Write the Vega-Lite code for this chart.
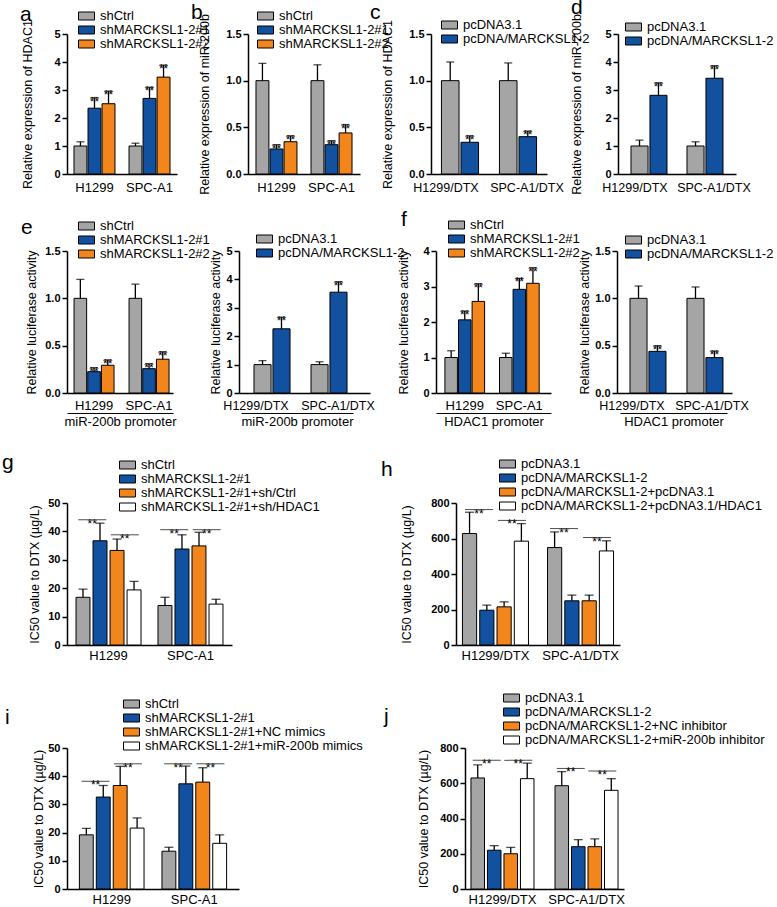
{
"$schema": "https://vega.github.io/schema/vega-lite/v6.json",
"padding": {"left": 2, "top": -4, "right": 0, "bottom": 0},
"config": {
  "font": "Liberation Sans",
  "view": {"stroke": null},
  "axis": {"domainColor": "black", "domainWidth": 1.5, "tickColor": "black", "labelColor": "black", "titleColor": "black", "grid": false, "titleFontWeight": "normal"},
  "axisY": {"tickSize": 5, "tickWidth": 1.5, "labelFontSize": 11, "labelFontWeight": "bold", "labelPadding": 2, "titleFontSize": 12.5, "labelOverlap": false},
  "axisX": {"ticks": false, "tickSize": 0, "labelAngle": 0, "labelFontSize": 13, "labelPadding": 6, "labelOverlap": false, "titleFontSize": 13},
  "legend": {"orient": "none", "labelFontSize": 13, "labelColor": "black", "symbolType": "M-2,-1H2V1H-2Z", "symbolSize": 64, "symbolStrokeColor": "black", "symbolStrokeWidth": 1, "labelOffset": 7, "padding": 0, "rowPadding": -5, "labelLimit": 400},
  "title": {"anchor": "start", "frame": "group", "offset": 0, "fontSize": 21, "fontWeight": "normal", "baseline": "alphabetic", "color": "black"},
  "bar": {"stroke": "black", "strokeWidth": 1},
  "rule": {"color": "black", "strokeWidth": 1.3},
  "tick": {"color": "black", "thickness": 1.3},
  "text": {"fontSize": 12, "color": "black"}
},
"datasets": {
  "a": [
    {"cell": "H1299", "grp": "shCtrl", "mean": 1.0, "upper": 1.15, "star": ""},
    {"cell": "H1299", "grp": "shMARCKSL1-2#1", "mean": 2.35, "upper": 2.73, "star": "**"},
    {"cell": "H1299", "grp": "shMARCKSL1-2#2", "mean": 2.51, "upper": 2.96, "star": "**"},
    {"cell": "SPC-A1", "grp": "shCtrl", "mean": 1.0, "upper": 1.1, "star": ""},
    {"cell": "SPC-A1", "grp": "shMARCKSL1-2#1", "mean": 2.7, "upper": 3.1, "star": "**"},
    {"cell": "SPC-A1", "grp": "shMARCKSL1-2#2", "mean": 3.46, "upper": 3.89, "star": "**"}
  ],
  "b": [
    {"cell": "H1299", "grp": "shCtrl", "mean": 1.0, "upper": 1.186, "star": ""},
    {"cell": "H1299", "grp": "shMARCKSL1-2#1", "mean": 0.268, "upper": 0.314, "star": "**"},
    {"cell": "H1299", "grp": "shMARCKSL1-2#2", "mean": 0.346, "upper": 0.41, "star": "**"},
    {"cell": "SPC-A1", "grp": "shCtrl", "mean": 1.0, "upper": 1.17, "star": ""},
    {"cell": "SPC-A1", "grp": "shMARCKSL1-2#1", "mean": 0.314, "upper": 0.357, "star": "**"},
    {"cell": "SPC-A1", "grp": "shMARCKSL1-2#2", "mean": 0.44, "upper": 0.53, "star": "**"}
  ],
  "c": [
    {"cell": "H1299/DTX", "grp": "pcDNA3.1", "mean": 1.0, "upper": 1.2, "star": ""},
    {"cell": "H1299/DTX", "grp": "pcDNA/MARCKSL1-2", "mean": 0.34, "upper": 0.41, "star": "**"},
    {"cell": "SPC-A1/DTX", "grp": "pcDNA3.1", "mean": 1.0, "upper": 1.19, "star": ""},
    {"cell": "SPC-A1/DTX", "grp": "pcDNA/MARCKSL1-2", "mean": 0.4, "upper": 0.46, "star": "**"}
  ],
  "d": [
    {"cell": "H1299/DTX", "grp": "pcDNA3.1", "mean": 1.0, "upper": 1.21, "star": ""},
    {"cell": "H1299/DTX", "grp": "pcDNA/MARCKSL1-2", "mean": 2.81, "upper": 3.26, "star": "**"},
    {"cell": "SPC-A1/DTX", "grp": "pcDNA3.1", "mean": 1.0, "upper": 1.15, "star": ""},
    {"cell": "SPC-A1/DTX", "grp": "pcDNA/MARCKSL1-2", "mean": 3.42, "upper": 3.87, "star": "**"}
  ],
  "e1": [
    {"cell": "H1299", "grp": "shCtrl", "mean": 1.0, "upper": 1.2, "star": ""},
    {"cell": "H1299", "grp": "shMARCKSL1-2#1", "mean": 0.225, "upper": 0.268, "star": "**"},
    {"cell": "H1299", "grp": "shMARCKSL1-2#2", "mean": 0.293, "upper": 0.35, "star": "**"},
    {"cell": "SPC-A1", "grp": "shCtrl", "mean": 1.0, "upper": 1.15, "star": ""},
    {"cell": "SPC-A1", "grp": "shMARCKSL1-2#1", "mean": 0.257, "upper": 0.31, "star": "**"},
    {"cell": "SPC-A1", "grp": "shMARCKSL1-2#2", "mean": 0.357, "upper": 0.436, "star": "**"}
  ],
  "e2": [
    {"cell": "H1299/DTX", "grp": "pcDNA3.1", "mean": 1.0, "upper": 1.14, "star": ""},
    {"cell": "H1299/DTX", "grp": "pcDNA/MARCKSL1-2", "mean": 2.26, "upper": 2.67, "star": "**"},
    {"cell": "SPC-A1/DTX", "grp": "pcDNA3.1", "mean": 1.0, "upper": 1.1, "star": ""},
    {"cell": "SPC-A1/DTX", "grp": "pcDNA/MARCKSL1-2", "mean": 3.55, "upper": 3.92, "star": "**"}
  ],
  "f1": [
    {"cell": "H1299", "grp": "shCtrl", "mean": 1.0, "upper": 1.19, "star": ""},
    {"cell": "H1299", "grp": "shMARCKSL1-2#1", "mean": 2.06, "upper": 2.31, "star": "**"},
    {"cell": "H1299", "grp": "shMARCKSL1-2#2", "mean": 2.58, "upper": 3.08, "star": "**"},
    {"cell": "SPC-A1", "grp": "shCtrl", "mean": 1.0, "upper": 1.12, "star": ""},
    {"cell": "SPC-A1", "grp": "shMARCKSL1-2#1", "mean": 2.92, "upper": 3.23, "star": "**"},
    {"cell": "SPC-A1", "grp": "shMARCKSL1-2#2", "mean": 3.09, "upper": 3.53, "star": "**"}
  ],
  "f2": [
    {"cell": "H1299/DTX", "grp": "pcDNA3.1", "mean": 1.0, "upper": 1.13, "star": ""},
    {"cell": "H1299/DTX", "grp": "pcDNA/MARCKSL1-2", "mean": 0.44, "upper": 0.5, "star": "**"},
    {"cell": "SPC-A1/DTX", "grp": "pcDNA3.1", "mean": 1.0, "upper": 1.12, "star": ""},
    {"cell": "SPC-A1/DTX", "grp": "pcDNA/MARCKSL1-2", "mean": 0.374, "upper": 0.444, "star": "**"}
  ],
  "g": [
    {"cell": "H1299", "grp": "shCtrl", "mean": 16.8, "upper": 19.7},
    {"cell": "H1299", "grp": "shMARCKSL1-2#1", "mean": 36.7, "upper": 42.9},
    {"cell": "H1299", "grp": "shMARCKSL1-2#1+sh/Ctrl", "mean": 33.3, "upper": 37.3},
    {"cell": "H1299", "grp": "shMARCKSL1-2#1+sh/HDAC1", "mean": 19.4, "upper": 22.4},
    {"cell": "SPC-A1", "grp": "shCtrl", "mean": 13.9, "upper": 16.8},
    {"cell": "SPC-A1", "grp": "shMARCKSL1-2#1", "mean": 33.8, "upper": 38.8},
    {"cell": "SPC-A1", "grp": "shMARCKSL1-2#1+sh/Ctrl", "mean": 34.9, "upper": 39.7},
    {"cell": "SPC-A1", "grp": "shMARCKSL1-2#1+sh/HDAC1", "mean": 14.4, "upper": 16.1}
  ],
  "gb": [
    {"cell": "H1299", "pair": "A", "y": 44.1, "star": "**"},
    {"cell": "H1299", "pair": "B", "y": 38.8, "star": "**"},
    {"cell": "SPC-A1", "pair": "A", "y": 40.6, "star": "**"},
    {"cell": "SPC-A1", "pair": "B", "y": 40.6, "star": "**"}
  ],
  "h": [
    {"cell": "H1299/DTX", "grp": "pcDNA3.1", "mean": 628, "upper": 748},
    {"cell": "H1299/DTX", "grp": "pcDNA/MARCKSL1-2", "mean": 196, "upper": 225},
    {"cell": "H1299/DTX", "grp": "pcDNA/MARCKSL1-2+pcDNA3.1", "mean": 215, "upper": 243},
    {"cell": "H1299/DTX", "grp": "pcDNA/MARCKSL1-2+pcDNA3.1/HDAC1", "mean": 585, "upper": 684},
    {"cell": "SPC-A1/DTX", "grp": "pcDNA3.1", "mean": 549, "upper": 637},
    {"cell": "SPC-A1/DTX", "grp": "pcDNA/MARCKSL1-2", "mean": 249, "upper": 281},
    {"cell": "SPC-A1/DTX", "grp": "pcDNA/MARCKSL1-2+pcDNA3.1", "mean": 249, "upper": 281},
    {"cell": "SPC-A1/DTX", "grp": "pcDNA/MARCKSL1-2+pcDNA3.1/HDAC1", "mean": 530, "upper": 587}
  ],
  "hb": [
    {"cell": "H1299/DTX", "pair": "A", "y": 763, "star": "**"},
    {"cell": "H1299/DTX", "pair": "B", "y": 702, "star": "**"},
    {"cell": "SPC-A1/DTX", "pair": "A", "y": 656, "star": "**"},
    {"cell": "SPC-A1/DTX", "pair": "B", "y": 605, "star": "**"}
  ],
  "i": [
    {"cell": "H1299", "grp": "shCtrl", "mean": 19.2, "upper": 21.5},
    {"cell": "H1299", "grp": "shMARCKSL1-2#1", "mean": 32.6, "upper": 36.7},
    {"cell": "H1299", "grp": "shMARCKSL1-2#1+NC mimics", "mean": 36.7, "upper": 43.5},
    {"cell": "H1299", "grp": "shMARCKSL1-2#1+miR-200b mimics", "mean": 21.6, "upper": 25.2},
    {"cell": "SPC-A1", "grp": "shCtrl", "mean": 13.4, "upper": 14.8},
    {"cell": "SPC-A1", "grp": "shMARCKSL1-2#1", "mean": 37.3, "upper": 43.6},
    {"cell": "SPC-A1", "grp": "shMARCKSL1-2#1+NC mimics", "mean": 37.9, "upper": 43.0},
    {"cell": "SPC-A1", "grp": "shMARCKSL1-2#1+miR-200b mimics", "mean": 16.2, "upper": 19.2}
  ],
  "ib": [
    {"cell": "H1299", "pair": "A", "y": 38.2, "star": "**"},
    {"cell": "H1299", "pair": "B", "y": 44.4, "star": "**"},
    {"cell": "SPC-A1", "pair": "A", "y": 44.4, "star": "**"},
    {"cell": "SPC-A1", "pair": "B", "y": 44.4, "star": "**"}
  ],
  "j": [
    {"cell": "H1299/DTX", "grp": "pcDNA3.1", "mean": 630, "upper": 704},
    {"cell": "H1299/DTX", "grp": "pcDNA/MARCKSL1-2", "mean": 220, "upper": 246},
    {"cell": "H1299/DTX", "grp": "pcDNA/MARCKSL1-2+NC inhibitor", "mean": 200, "upper": 236},
    {"cell": "H1299/DTX", "grp": "pcDNA/MARCKSL1-2+miR-200b inhibitor", "mean": 626, "upper": 714},
    {"cell": "SPC-A1/DTX", "grp": "pcDNA3.1", "mean": 586, "upper": 666},
    {"cell": "SPC-A1/DTX", "grp": "pcDNA/MARCKSL1-2", "mean": 240, "upper": 280},
    {"cell": "SPC-A1/DTX", "grp": "pcDNA/MARCKSL1-2+NC inhibitor", "mean": 240, "upper": 284},
    {"cell": "SPC-A1/DTX", "grp": "pcDNA/MARCKSL1-2+miR-200b inhibitor", "mean": 560, "upper": 626}
  ],
  "jb": [
    {"cell": "H1299/DTX", "pair": "A", "y": 730, "star": "**"},
    {"cell": "H1299/DTX", "pair": "B", "y": 730, "star": "**"},
    {"cell": "SPC-A1/DTX", "pair": "A", "y": 684, "star": "**"},
    {"cell": "SPC-A1/DTX", "pair": "B", "y": 670, "star": "**"}
  ]
},
"resolve": {"scale": {"color": "independent", "x": "independent", "y": "independent", "xOffset": "independent"}, "legend": {"color": "independent"}, "axis": {"x": "independent", "y": "independent"}},
"columns": 1, "align": "none", "spacing": 13,
"concat": [
 {
  "hconcat": [
   {
    "width": 110, "height": 140,
    "title": {"text": "a", "dx": -47, "dy": 19},
    "data": {"name": "a"},
    "encoding": {
      "x": {"field": "cell", "type": "nominal", "sort": null, "title": null, "scale": {"paddingInner": 0.255, "paddingOuter": 0.127}, "axis": {"labelPadding": 7}},
      "xOffset": {"field": "grp", "type": "nominal", "sort": null, "scale": {"paddingInner": 0.08}}
    },
    "layer": [
      {"mark": "bar", "encoding": {
        "y": {"field": "mean", "type": "quantitative", "title": "Relative expression of HDAC1", "scale": {"domain": [0, 5], "nice": false}, "axis": {"values": [0, 1, 2, 3, 4, 5], "titlePadding": 19.4, "labelOverlap": false}},
        "color": {"field": "grp", "type": "nominal", "sort": null, "scale": {"range": ["#a5a5a5", "#11519f", "#f2861c"]}, "legend": {"title": null, "legendX": 13, "legendY": -24.5, "rowPadding": -5.5}}}},
      {"mark": "rule", "encoding": {"y": {"field": "mean", "type": "quantitative", "title": "Relative expression of HDAC1", "scale": {"domain": [0, 5], "nice": false}, "axis": {"values": [0, 1, 2, 3, 4, 5], "titlePadding": 19.4, "labelOverlap": false}}, "y2": {"field": "upper"}}},
      {"mark": {"type": "tick", "size": 8}, "encoding": {"y": {"field": "upper", "type": "quantitative", "title": "Relative expression of HDAC1", "scale": {"domain": [0, 5], "nice": false}, "axis": {"values": [0, 1, 2, 3, 4, 5], "titlePadding": 19.4, "labelOverlap": false}}}},
      {"transform": [{"filter": "datum.star !== ''"}], "mark": {"type": "text", "dy": 4}, "encoding": {"y": {"field": "upper", "type": "quantitative", "title": "Relative expression of HDAC1", "scale": {"domain": [0, 5], "nice": false}, "axis": {"values": [0, 1, 2, 3, 4, 5], "titlePadding": 19.4, "labelOverlap": false}}, "text": {"field": "star"}}}
    ]
   },
   {
    "width": 112, "height": 140,
    "title": {"text": "b", "dx": -57, "dy": 17},
    "data": {"name": "b"},
    "encoding": {
      "x": {"field": "cell", "type": "nominal", "sort": null, "title": null, "scale": {"paddingInner": 0.255, "paddingOuter": 0.145}, "axis": {"labelPadding": 7}},
      "xOffset": {"field": "grp", "type": "nominal", "sort": null, "scale": {"paddingInner": 0.08}}
    },
    "layer": [
      {"mark": "bar", "encoding": {
        "y": {"field": "mean", "type": "quantitative", "title": "Relative expression of miR-200b", "scale": {"domain": [0, 1.5], "nice": false}, "axis": {"values": [0, 0.5, 1, 1.5], "format": ".1f", "titlePadding": 14.2, "labelOverlap": false}},
        "color": {"field": "grp", "type": "nominal", "sort": null, "scale": {"range": ["#a5a5a5", "#11519f", "#f2861c"]}, "legend": {"title": null, "legendX": 11, "legendY": -24.5, "rowPadding": -5.5}}}},
      {"mark": "rule", "encoding": {"y": {"field": "mean", "type": "quantitative", "title": "Relative expression of miR-200b", "scale": {"domain": [0, 1.5], "nice": false}, "axis": {"values": [0, 0.5, 1, 1.5], "format": ".1f", "titlePadding": 14.2, "labelOverlap": false}}, "y2": {"field": "upper"}}},
      {"mark": {"type": "tick", "size": 8}, "encoding": {"y": {"field": "upper", "type": "quantitative", "title": "Relative expression of miR-200b", "scale": {"domain": [0, 1.5], "nice": false}, "axis": {"values": [0, 0.5, 1, 1.5], "format": ".1f", "titlePadding": 14.2, "labelOverlap": false}}}},
      {"transform": [{"filter": "datum.star !== ''"}], "mark": {"type": "text", "dy": 4}, "encoding": {"y": {"field": "upper", "type": "quantitative", "title": "Relative expression of miR-200b", "scale": {"domain": [0, 1.5], "nice": false}, "axis": {"values": [0, 0.5, 1, 1.5], "format": ".1f", "titlePadding": 14.2, "labelOverlap": false}}, "text": {"field": "star"}}}
    ]
   },
   {
    "width": 116, "height": 140,
    "title": {"text": "c", "dx": -61, "dy": 8},
    "data": {"name": "c"},
    "encoding": {
      "x": {"field": "cell", "type": "nominal", "sort": null, "title": null, "scale": {"paddingInner": 0.36, "paddingOuter": 0.18}, "axis": {"labelPadding": 7, "labelFontSize": 12.5, "labelOffset": {"condition": {"test": "datum.value === 'H1299/DTX'", "value": -14}, "value": 9}}},
      "xOffset": {"field": "grp", "type": "nominal", "sort": null, "scale": {"paddingInner": 0.1}}
    },
    "layer": [
      {"mark": "bar", "encoding": {
        "y": {"field": "mean", "type": "quantitative", "title": "Relative expression of HDAC1", "scale": {"domain": [0, 1.5], "nice": false}, "axis": {"values": [0, 0.5, 1, 1.5], "format": ".1f", "titlePadding": 14.2, "labelOverlap": false}},
        "color": {"field": "grp", "type": "nominal", "sort": null, "scale": {"range": ["#a5a5a5", "#11519f"]}, "legend": {"title": null, "legendX": 12, "legendY": -15.5, "rowPadding": -5.5}}}},
      {"mark": "rule", "encoding": {"y": {"field": "mean", "type": "quantitative", "title": "Relative expression of HDAC1", "scale": {"domain": [0, 1.5], "nice": false}, "axis": {"values": [0, 0.5, 1, 1.5], "format": ".1f", "titlePadding": 14.2, "labelOverlap": false}}, "y2": {"field": "upper"}}},
      {"mark": {"type": "tick", "size": 8}, "encoding": {"y": {"field": "upper", "type": "quantitative", "title": "Relative expression of HDAC1", "scale": {"domain": [0, 1.5], "nice": false}, "axis": {"values": [0, 0.5, 1, 1.5], "format": ".1f", "titlePadding": 14.2, "labelOverlap": false}}}},
      {"transform": [{"filter": "datum.star !== ''"}], "mark": {"type": "text", "dy": 4}, "encoding": {"y": {"field": "upper", "type": "quantitative", "title": "Relative expression of HDAC1", "scale": {"domain": [0, 1.5], "nice": false}, "axis": {"values": [0, 0.5, 1, 1.5], "format": ".1f", "titlePadding": 14.2, "labelOverlap": false}}, "text": {"field": "star"}}}
    ]
   },
   {
    "width": 118, "height": 140,
    "title": {"text": "d", "dx": -47, "dy": 8},
    "data": {"name": "d"},
    "encoding": {
      "x": {"field": "cell", "type": "nominal", "sort": null, "title": null, "scale": {"paddingInner": 0.357, "paddingOuter": 0.232}, "axis": {"labelPadding": 7, "labelFontSize": 12.5, "labelOffset": {"condition": {"test": "datum.value === 'H1299/DTX'", "value": -14}, "value": 9}}},
      "xOffset": {"field": "grp", "type": "nominal", "sort": null, "scale": {"paddingInner": 0.1}}
    },
    "layer": [
      {"mark": "bar", "encoding": {
        "y": {"field": "mean", "type": "quantitative", "title": "Relative expression of miR-200b", "scale": {"domain": [0, 5], "nice": false}, "axis": {"values": [0, 1, 2, 3, 4, 5], "titlePadding": 21.4, "labelOverlap": false}},
        "color": {"field": "grp", "type": "nominal", "sort": null, "scale": {"range": ["#a5a5a5", "#11519f"]}, "legend": {"title": null, "legendX": 9, "legendY": -13.5, "rowPadding": -5.5}}}},
      {"mark": "rule", "encoding": {"y": {"field": "mean", "type": "quantitative", "title": "Relative expression of miR-200b", "scale": {"domain": [0, 5], "nice": false}, "axis": {"values": [0, 1, 2, 3, 4, 5], "titlePadding": 21.4, "labelOverlap": false}}, "y2": {"field": "upper"}}},
      {"mark": {"type": "tick", "size": 8}, "encoding": {"y": {"field": "upper", "type": "quantitative", "title": "Relative expression of miR-200b", "scale": {"domain": [0, 5], "nice": false}, "axis": {"values": [0, 1, 2, 3, 4, 5], "titlePadding": 21.4, "labelOverlap": false}}}},
      {"transform": [{"filter": "datum.star !== ''"}], "mark": {"type": "text", "dy": 4}, "encoding": {"y": {"field": "upper", "type": "quantitative", "title": "Relative expression of miR-200b", "scale": {"domain": [0, 5], "nice": false}, "axis": {"values": [0, 1, 2, 3, 4, 5], "titlePadding": 21.4, "labelOverlap": false}}, "text": {"field": "star"}}}
    ]
   }
  ],
  "spacing": 71, "bounds": "flush",
  "resolve": {"scale": {"color": "independent", "x": "independent", "y": "independent", "xOffset": "independent"}, "legend": {"color": "independent"}, "axis": {"x": "independent", "y": "independent"}}
 },
 {
  "columns": 1, "align": "none", "spacing": 23,
  "resolve": {"scale": {"color": "independent", "x": "independent", "y": "independent", "xOffset": "independent"}, "legend": {"color": "independent"}, "axis": {"x": "independent", "y": "independent"}},
  "concat": [
   {
    "hconcat": [
     {
      "width": 106, "height": 142,
      "title": {"text": "e", "dx": -46, "dy": 22},
      "layer": [
        {
          "data": {"name": "e1"},
          "encoding": {
            "x": {"field": "cell", "type": "nominal", "sort": null, "title": null, "scale": {"paddingInner": 0.273, "paddingOuter": 0.1, "align": 0.64}, "axis": {"labelPadding": 6}},
            "xOffset": {"field": "grp", "type": "nominal", "sort": null, "scale": {"paddingInner": 0.08}}
          },
          "layer": [
            {"mark": "bar", "encoding": {
              "y": {"field": "mean", "type": "quantitative", "title": "Relative luciferase activity", "scale": {"domain": [0, 1.5], "nice": false}, "axis": {"values": [0, 0.5, 1, 1.5], "format": ".1f", "titlePadding": 6.2, "labelOverlap": false}},
              "color": {"field": "grp", "type": "nominal", "sort": null, "scale": {"range": ["#a5a5a5", "#11519f", "#f2861c"]}, "legend": {"title": null, "legendX": 13, "legendY": -31.5, "rowPadding": -5}}}},
            {"mark": "rule", "encoding": {"y": {"field": "mean", "type": "quantitative", "title": "Relative luciferase activity", "scale": {"domain": [0, 1.5], "nice": false}, "axis": {"values": [0, 0.5, 1, 1.5], "format": ".1f", "titlePadding": 6.2, "labelOverlap": false}}, "y2": {"field": "upper"}}},
            {"mark": {"type": "tick", "size": 8}, "encoding": {"y": {"field": "upper", "type": "quantitative", "title": "Relative luciferase activity", "scale": {"domain": [0, 1.5], "nice": false}, "axis": {"values": [0, 0.5, 1, 1.5], "format": ".1f", "titlePadding": 6.2, "labelOverlap": false}}}},
            {"transform": [{"filter": "datum.star !== ''"}], "mark": {"type": "text", "dy": 4}, "encoding": {"y": {"field": "upper", "type": "quantitative", "title": "Relative luciferase activity", "scale": {"domain": [0, 1.5], "nice": false}, "axis": {"values": [0, 0.5, 1, 1.5], "format": ".1f", "titlePadding": 6.2, "labelOverlap": false}}, "text": {"field": "star"}}}
          ]
        },
        {
          "data": {"values": [{"p": "promoter"}]},
          "mark": {"type": "rule", "opacity": 0},
          "encoding": {"x": {"field": "p", "type": "nominal", "axis": {"orient": "bottom", "offset": 20, "labels": false, "domain": true, "domainWidth": 1, "title": "miR-200b promoter", "titlePadding": 2}}}
        }
      ],
      "resolve": {"scale": {"x": "independent"}, "axis": {"x": "independent"}}
     },
     {
      "width": 131, "height": 142,
      "layer": [
        {
          "data": {"name": "e2"},
          "encoding": {
            "x": {"field": "cell", "type": "nominal", "sort": null, "title": null, "scale": {"paddingInner": 0.368, "paddingOuter": 0.333, "align": 0.395}, "axis": {"labelPadding": 6, "labelFontSize": 12.5, "labelOffset": {"condition": {"test": "datum.value === 'H1299/DTX'", "value": -16}, "value": 9}}},
            "xOffset": {"field": "grp", "type": "nominal", "sort": null, "scale": {"paddingInner": 0.1}}
          },
          "layer": [
            {"mark": "bar", "encoding": {
              "y": {"field": "mean", "type": "quantitative", "title": "Relative luciferase activity", "scale": {"domain": [0, 5], "nice": false}, "axis": {"values": [0, 1, 2, 3, 4, 5], "titlePadding": 3.4, "labelOverlap": false}},
              "color": {"field": "grp", "type": "nominal", "sort": null, "scale": {"range": ["#a5a5a5", "#11519f"]}, "legend": {"title": null, "legendX": 19, "legendY": -18.5, "rowPadding": -5}}}},
            {"mark": "rule", "encoding": {"y": {"field": "mean", "type": "quantitative", "title": "Relative luciferase activity", "scale": {"domain": [0, 5], "nice": false}, "axis": {"values": [0, 1, 2, 3, 4, 5], "titlePadding": 3.4, "labelOverlap": false}}, "y2": {"field": "upper"}}},
            {"mark": {"type": "tick", "size": 8}, "encoding": {"y": {"field": "upper", "type": "quantitative", "title": "Relative luciferase activity", "scale": {"domain": [0, 5], "nice": false}, "axis": {"values": [0, 1, 2, 3, 4, 5], "titlePadding": 3.4, "labelOverlap": false}}}},
            {"transform": [{"filter": "datum.star !== ''"}], "mark": {"type": "text", "dy": 4}, "encoding": {"y": {"field": "upper", "type": "quantitative", "title": "Relative luciferase activity", "scale": {"domain": [0, 5], "nice": false}, "axis": {"values": [0, 1, 2, 3, 4, 5], "titlePadding": 3.4, "labelOverlap": false}}, "text": {"field": "star"}}}
          ]
        },
        {
          "data": {"values": [{"p": "promoter"}]},
          "mark": {"type": "rule", "opacity": 0},
          "encoding": {"x": {"field": "p", "type": "nominal", "scale": {"range": [2, 114]}, "axis": {"orient": "bottom", "offset": 20, "labels": false, "domain": true, "domainWidth": 1, "title": "miR-200b promoter", "titlePadding": 2}}}
        }
      ],
      "resolve": {"scale": {"x": "independent"}, "axis": {"x": "independent"}}
     },
     {
      "width": 115, "height": 142,
      "title": {"text": "f", "dx": -35, "dy": 15},
      "layer": [
        {
          "data": {"name": "f1"},
          "encoding": {
            "x": {"field": "cell", "type": "nominal", "sort": null, "title": null, "scale": {"paddingInner": 0.273, "paddingOuter": 0.19, "align": 0.43}, "axis": {"labelPadding": 6}},
            "xOffset": {"field": "grp", "type": "nominal", "sort": null, "scale": {"paddingInner": 0.08}}
          },
          "layer": [
            {"mark": "bar", "encoding": {
              "y": {"field": "mean", "type": "quantitative", "title": "Relative luciferase activity", "scale": {"domain": [0, 4], "nice": false}, "axis": {"values": [0, 1, 2, 3, 4], "titlePadding": 12.4, "labelOverlap": false}},
              "color": {"field": "grp", "type": "nominal", "sort": null, "scale": {"range": ["#a5a5a5", "#11519f", "#f2861c"]}, "legend": {"title": null, "legendX": 14, "legendY": -32.5, "rowPadding": -4.5}}}},
            {"mark": "rule", "encoding": {"y": {"field": "mean", "type": "quantitative", "title": "Relative luciferase activity", "scale": {"domain": [0, 4], "nice": false}, "axis": {"values": [0, 1, 2, 3, 4], "titlePadding": 12.4, "labelOverlap": false}}, "y2": {"field": "upper"}}},
            {"mark": {"type": "tick", "size": 8}, "encoding": {"y": {"field": "upper", "type": "quantitative", "title": "Relative luciferase activity", "scale": {"domain": [0, 4], "nice": false}, "axis": {"values": [0, 1, 2, 3, 4], "titlePadding": 12.4, "labelOverlap": false}}}},
            {"transform": [{"filter": "datum.star !== ''"}], "mark": {"type": "text", "dy": 4}, "encoding": {"y": {"field": "upper", "type": "quantitative", "title": "Relative luciferase activity", "scale": {"domain": [0, 4], "nice": false}, "axis": {"values": [0, 1, 2, 3, 4], "titlePadding": 12.4, "labelOverlap": false}}, "text": {"field": "star"}}}
          ]
        },
        {
          "data": {"values": [{"p": "promoter"}]},
          "mark": {"type": "rule", "opacity": 0},
          "encoding": {"x": {"field": "p", "type": "nominal", "axis": {"orient": "bottom", "offset": 20, "labels": false, "domain": true, "domainWidth": 1, "title": "HDAC1 promoter", "titlePadding": 2}}}
        }
      ],
      "resolve": {"scale": {"x": "independent"}, "axis": {"x": "independent"}}
     },
     {
      "width": 115, "height": 142,
      "layer": [
        {
          "data": {"name": "f2"},
          "encoding": {
            "x": {"field": "cell", "type": "nominal", "sort": null, "title": null, "scale": {"paddingInner": 0.368, "paddingOuter": 0.193, "align": 0.59}, "axis": {"labelPadding": 6, "labelFontSize": 12.5, "labelOffset": {"condition": {"test": "datum.value === 'H1299/DTX'", "value": -16}, "value": 7}}},
            "xOffset": {"field": "grp", "type": "nominal", "sort": null, "scale": {"paddingInner": 0.1}}
          },
          "layer": [
            {"mark": "bar", "encoding": {
              "y": {"field": "mean", "type": "quantitative", "title": "Relative luciferase activity", "scale": {"domain": [0, 1.5], "nice": false}, "axis": {"values": [0, 0.5, 1, 1.5], "format": ".1f", "titlePadding": 3.2, "labelOverlap": false}},
              "color": {"field": "grp", "type": "nominal", "sort": null, "scale": {"range": ["#a5a5a5", "#11519f"]}, "legend": {"title": null, "legendX": 10, "legendY": -17.5, "rowPadding": -5}}}},
            {"mark": "rule", "encoding": {"y": {"field": "mean", "type": "quantitative", "title": "Relative luciferase activity", "scale": {"domain": [0, 1.5], "nice": false}, "axis": {"values": [0, 0.5, 1, 1.5], "format": ".1f", "titlePadding": 3.2, "labelOverlap": false}}, "y2": {"field": "upper"}}},
            {"mark": {"type": "tick", "size": 8}, "encoding": {"y": {"field": "upper", "type": "quantitative", "title": "Relative luciferase activity", "scale": {"domain": [0, 1.5], "nice": false}, "axis": {"values": [0, 0.5, 1, 1.5], "format": ".1f", "titlePadding": 3.2, "labelOverlap": false}}}},
            {"transform": [{"filter": "datum.star !== ''"}], "mark": {"type": "text", "dy": 4}, "encoding": {"y": {"field": "upper", "type": "quantitative", "title": "Relative luciferase activity", "scale": {"domain": [0, 1.5], "nice": false}, "axis": {"values": [0, 0.5, 1, 1.5], "format": ".1f", "titlePadding": 3.2, "labelOverlap": false}}, "text": {"field": "star"}}}
          ]
        },
        {
          "data": {"values": [{"p": "promoter"}]},
          "mark": {"type": "rule", "opacity": 0},
          "encoding": {"x": {"field": "p", "type": "nominal", "scale": {"range": [3, 110]}, "axis": {"orient": "bottom", "offset": 20, "labels": false, "domain": true, "domainWidth": 1, "title": "HDAC1 promoter", "titlePadding": 2}}}
        }
      ],
      "resolve": {"scale": {"x": "independent"}, "axis": {"x": "independent"}}
     }
    ],
    "spacing": 66, "bounds": "flush",
    "resolve": {"scale": {"color": "independent", "x": "independent", "y": "independent", "xOffset": "independent"}, "legend": {"color": "independent"}, "axis": {"x": "independent", "y": "independent"}}
   },
   {
    "columns": 1, "align": "none", "spacing": 29,
    "resolve": {"scale": {"color": "independent", "x": "independent", "y": "independent", "xOffset": "independent"}, "legend": {"color": "independent"}, "axis": {"x": "independent", "y": "independent"}},
    "concat": [
     {
      "hconcat": [
       {
        "width": 165, "height": 142,
        "title": {"text": "g", "dx": -65, "dy": 18},
        "data": {"name": "g"},
        "encoding": {
          "x": {"field": "cell", "type": "nominal", "sort": null, "title": null, "scale": {"paddingInner": 0.207, "paddingOuter": 0.11}, "axis": {"labelPadding": 4}},
          "xOffset": {"field": "grp", "type": "nominal", "sort": null, "scale": {"type": "band", "paddingInner": 0.18}}
        },
        "layer": [
          {"mark": "bar", "encoding": {
            "y": {"field": "mean", "type": "quantitative", "title": "IC50 value to DTX (µg/L)", "scale": {"domain": [0, 50], "nice": false}, "axis": {"values": [0, 10, 20, 30, 40, 50], "titlePadding": 6.3, "labelOverlap": false}},
            "color": {"field": "grp", "type": "nominal", "sort": null, "scale": {"range": ["#a5a5a5", "#11519f", "#f2861c", "#ffffff"]}, "legend": {"title": null, "legendX": 54, "legendY": -44.5, "rowPadding": -5}}}},
          {"mark": "rule", "encoding": {"y": {"field": "mean", "type": "quantitative", "title": "IC50 value to DTX (µg/L)", "scale": {"domain": [0, 50], "nice": false}, "axis": {"values": [0, 10, 20, 30, 40, 50], "titlePadding": 6.3, "labelOverlap": false}}, "y2": {"field": "upper"}}},
          {"mark": {"type": "tick", "size": 9}, "encoding": {"y": {"field": "upper", "type": "quantitative", "title": "IC50 value to DTX (µg/L)", "scale": {"domain": [0, 50], "nice": false}, "axis": {"values": [0, 10, 20, 30, 40, 50], "titlePadding": 6.3, "labelOverlap": false}}}},
          {"data": {"name": "gb"}, "mark": {"type": "tick", "size": 28, "thickness": 1}, "encoding": {"xOffset": {"field": "pair", "type": "nominal", "sort": null, "scale": {"type": "band", "paddingInner": 0, "paddingOuter": 0}}, "y": {"field": "y", "type": "quantitative", "title": "IC50 value to DTX (µg/L)", "scale": {"domain": [0, 50], "nice": false}, "axis": {"values": [0, 10, 20, 30, 40, 50], "titlePadding": 6.3, "labelOverlap": false}}}},
          {"data": {"name": "gb"}, "mark": {"type": "text", "dy": 4}, "encoding": {"xOffset": {"field": "pair", "type": "nominal", "sort": null, "scale": {"type": "band", "paddingInner": 0, "paddingOuter": 0}}, "y": {"field": "y", "type": "quantitative", "title": "IC50 value to DTX (µg/L)", "scale": {"domain": [0, 50], "nice": false}, "axis": {"values": [0, 10, 20, 30, 40, 50], "titlePadding": 6.3, "labelOverlap": false}}, "text": {"field": "star"}}}
        ],
        "resolve": {"scale": {"xOffset": "independent"}}
       },
       {
        "width": 164, "height": 142,
        "title": {"text": "h", "dx": -75, "dy": 26},
        "data": {"name": "h"},
        "encoding": {
          "x": {"field": "cell", "type": "nominal", "sort": null, "title": null, "scale": {"paddingInner": 0.224, "paddingOuter": 0.076}, "axis": {"labelPadding": 4}},
          "xOffset": {"field": "grp", "type": "nominal", "sort": null, "scale": {"type": "band", "paddingInner": 0.18}}
        },
        "layer": [
          {"mark": "bar", "encoding": {
            "y": {"field": "mean", "type": "quantitative", "title": "IC50 value to DTX (µg/L)", "scale": {"domain": [0, 800], "nice": false}, "axis": {"values": [0, 200, 400, 600, 800], "titlePadding": 17.1, "labelOverlap": false}},
            "color": {"field": "grp", "type": "nominal", "sort": null, "scale": {"range": ["#a5a5a5", "#11519f", "#f2861c", "#ffffff"]}, "legend": {"title": null, "legendX": 45, "legendY": -45.5, "rowPadding": -5}}}},
          {"mark": "rule", "encoding": {"y": {"field": "mean", "type": "quantitative", "title": "IC50 value to DTX (µg/L)", "scale": {"domain": [0, 800], "nice": false}, "axis": {"values": [0, 200, 400, 600, 800], "titlePadding": 17.1, "labelOverlap": false}}, "y2": {"field": "upper"}}},
          {"mark": {"type": "tick", "size": 9}, "encoding": {"y": {"field": "upper", "type": "quantitative", "title": "IC50 value to DTX (µg/L)", "scale": {"domain": [0, 800], "nice": false}, "axis": {"values": [0, 200, 400, 600, 800], "titlePadding": 17.1, "labelOverlap": false}}}},
          {"data": {"name": "hb"}, "mark": {"type": "tick", "size": 28, "thickness": 1}, "encoding": {"xOffset": {"field": "pair", "type": "nominal", "sort": null, "scale": {"type": "band", "paddingInner": 0, "paddingOuter": 0}}, "y": {"field": "y", "type": "quantitative", "title": "IC50 value to DTX (µg/L)", "scale": {"domain": [0, 800], "nice": false}, "axis": {"values": [0, 200, 400, 600, 800], "titlePadding": 17.1, "labelOverlap": false}}}},
          {"data": {"name": "hb"}, "mark": {"type": "text", "dy": 4}, "encoding": {"xOffset": {"field": "pair", "type": "nominal", "sort": null, "scale": {"type": "band", "paddingInner": 0, "paddingOuter": 0}}, "y": {"field": "y", "type": "quantitative", "title": "IC50 value to DTX (µg/L)", "scale": {"domain": [0, 800], "nice": false}, "axis": {"values": [0, 200, 400, 600, 800], "titlePadding": 17.1, "labelOverlap": false}}, "text": {"field": "star"}}}
        ],
        "resolve": {"scale": {"xOffset": "independent"}}
       }
      ],
      "spacing": 224, "bounds": "flush",
      "resolve": {"scale": {"color": "independent", "x": "independent", "y": "independent", "xOffset": "independent"}, "legend": {"color": "independent"}, "axis": {"x": "independent", "y": "independent"}}
     },
     {
      "hconcat": [
       {
        "width": 172, "height": 141,
        "title": {"text": "i", "dx": -62, "dy": 34},
        "data": {"name": "i"},
        "encoding": {
          "x": {"field": "cell", "type": "nominal", "sort": null, "title": null, "scale": {"paddingInner": 0.217, "paddingOuter": 0.15}, "axis": {"labelPadding": 4}},
          "xOffset": {"field": "grp", "type": "nominal", "sort": null, "scale": {"type": "band", "paddingInner": 0.18}}
        },
        "layer": [
          {"mark": "bar", "encoding": {
            "y": {"field": "mean", "type": "quantitative", "title": "IC50 value to DTX (µg/L)", "scale": {"domain": [0, 50], "nice": false}, "axis": {"values": [0, 10, 20, 30, 40, 50], "titlePadding": 1.8, "labelOverlap": false}},
            "color": {"field": "grp", "type": "nominal", "sort": null, "scale": {"range": ["#a5a5a5", "#11519f", "#f2861c", "#ffffff"]}, "legend": {"title": null, "legendX": 58, "legendY": -50.5, "rowPadding": -6}}}},
          {"mark": "rule", "encoding": {"y": {"field": "mean", "type": "quantitative", "title": "IC50 value to DTX (µg/L)", "scale": {"domain": [0, 50], "nice": false}, "axis": {"values": [0, 10, 20, 30, 40, 50], "titlePadding": 1.8, "labelOverlap": false}}, "y2": {"field": "upper"}}},
          {"mark": {"type": "tick", "size": 9}, "encoding": {"y": {"field": "upper", "type": "quantitative", "title": "IC50 value to DTX (µg/L)", "scale": {"domain": [0, 50], "nice": false}, "axis": {"values": [0, 10, 20, 30, 40, 50], "titlePadding": 1.8, "labelOverlap": false}}}},
          {"data": {"name": "ib"}, "mark": {"type": "tick", "size": 28, "thickness": 1}, "encoding": {"xOffset": {"field": "pair", "type": "nominal", "sort": null, "scale": {"type": "band", "paddingInner": 0, "paddingOuter": 0}}, "y": {"field": "y", "type": "quantitative", "title": "IC50 value to DTX (µg/L)", "scale": {"domain": [0, 50], "nice": false}, "axis": {"values": [0, 10, 20, 30, 40, 50], "titlePadding": 1.8, "labelOverlap": false}}}},
          {"data": {"name": "ib"}, "mark": {"type": "text", "dy": 4}, "encoding": {"xOffset": {"field": "pair", "type": "nominal", "sort": null, "scale": {"type": "band", "paddingInner": 0, "paddingOuter": 0}}, "y": {"field": "y", "type": "quantitative", "title": "IC50 value to DTX (µg/L)", "scale": {"domain": [0, 50], "nice": false}, "axis": {"values": [0, 10, 20, 30, 40, 50], "titlePadding": 1.8, "labelOverlap": false}}, "text": {"field": "star"}}}
        ],
        "resolve": {"scale": {"xOffset": "independent"}}
       },
       {
        "width": 159, "height": 141,
        "title": {"text": "j", "dx": -81, "dy": 39},
        "data": {"name": "j"},
        "encoding": {
          "x": {"field": "cell", "type": "nominal", "sort": null, "title": null, "scale": {"paddingInner": 0.25, "paddingOuter": 0.071}, "axis": {"labelPadding": 4}},
          "xOffset": {"field": "grp", "type": "nominal", "sort": null, "scale": {"type": "band", "paddingInner": 0.18}}
        },
        "layer": [
          {"mark": "bar", "encoding": {
            "y": {"field": "mean", "type": "quantitative", "title": "IC50 value to DTX (µg/L)", "scale": {"domain": [0, 800], "nice": false}, "axis": {"values": [0, 200, 400, 600, 800], "titlePadding": 9.1, "labelOverlap": false}},
            "color": {"field": "grp", "type": "nominal", "sort": null, "scale": {"range": ["#a5a5a5", "#11519f", "#f2861c", "#ffffff"]}, "legend": {"title": null, "legendX": 40, "legendY": -56.5, "rowPadding": -3.5}}}},
          {"mark": "rule", "encoding": {"y": {"field": "mean", "type": "quantitative", "title": "IC50 value to DTX (µg/L)", "scale": {"domain": [0, 800], "nice": false}, "axis": {"values": [0, 200, 400, 600, 800], "titlePadding": 9.1, "labelOverlap": false}}, "y2": {"field": "upper"}}},
          {"mark": {"type": "tick", "size": 9}, "encoding": {"y": {"field": "upper", "type": "quantitative", "title": "IC50 value to DTX (µg/L)", "scale": {"domain": [0, 800], "nice": false}, "axis": {"values": [0, 200, 400, 600, 800], "titlePadding": 9.1, "labelOverlap": false}}}},
          {"data": {"name": "jb"}, "mark": {"type": "tick", "size": 28, "thickness": 1}, "encoding": {"xOffset": {"field": "pair", "type": "nominal", "sort": null, "scale": {"type": "band", "paddingInner": 0, "paddingOuter": 0}}, "y": {"field": "y", "type": "quantitative", "title": "IC50 value to DTX (µg/L)", "scale": {"domain": [0, 800], "nice": false}, "axis": {"values": [0, 200, 400, 600, 800], "titlePadding": 9.1, "labelOverlap": false}}}},
          {"data": {"name": "jb"}, "mark": {"type": "text", "dy": 4}, "encoding": {"xOffset": {"field": "pair", "type": "nominal", "sort": null, "scale": {"type": "band", "paddingInner": 0, "paddingOuter": 0}}, "y": {"field": "y", "type": "quantitative", "title": "IC50 value to DTX (µg/L)", "scale": {"domain": [0, 800], "nice": false}, "axis": {"values": [0, 200, 400, 600, 800], "titlePadding": 9.1, "labelOverlap": false}}, "text": {"field": "star"}}}
        ],
        "resolve": {"scale": {"xOffset": "independent"}}
       }
      ],
      "spacing": 226, "bounds": "flush",
      "resolve": {"scale": {"color": "independent", "x": "independent", "y": "independent", "xOffset": "independent"}, "legend": {"color": "independent"}, "axis": {"x": "independent", "y": "independent"}}
     }
    ]
   }
  ]
 }
]
}
